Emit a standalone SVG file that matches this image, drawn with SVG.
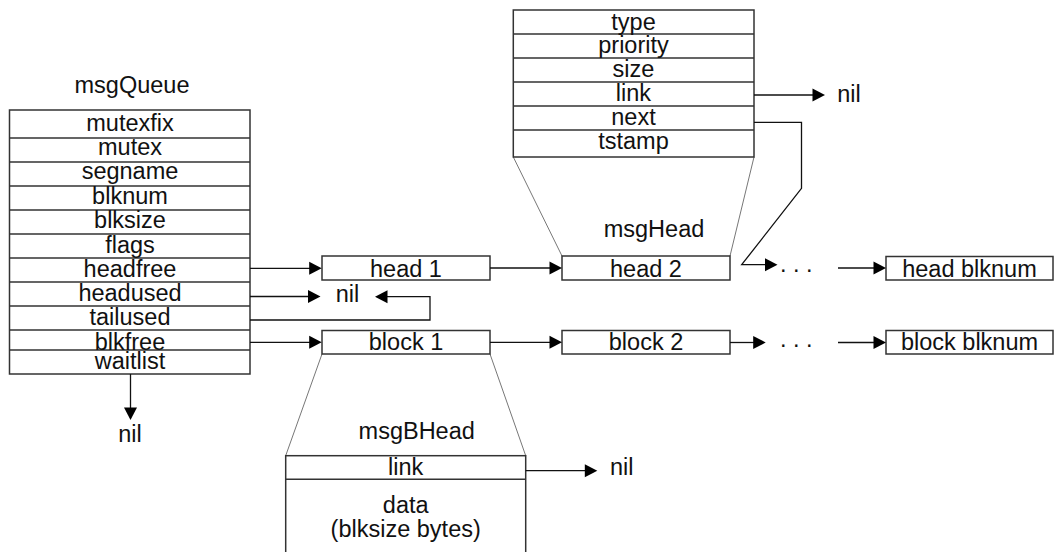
<svg xmlns="http://www.w3.org/2000/svg" width="1054" height="552" viewBox="0 0 1054 552">
  <defs>
    <!-- arrowhead with its tip at the origin, pointing along +x -->
    <path id="ah" d="M0,0 L-12.5,-6.5 L-12.5,6.5 Z" fill="#000"/>
  </defs>
  <style>
    text { font-family: "Liberation Sans", Arial, sans-serif; font-size: 23.5px; fill: #111; text-anchor: middle; }
    .box { fill: #fff; stroke: #333; stroke-width: 1.5; }
    .div { stroke: #333; stroke-width: 1.5; }
    .conn { fill: none; stroke: #111; stroke-width: 1.3; }
    .zoom { fill: none; stroke: #777; stroke-width: 1; }
  </style>
  <rect width="1054" height="552" fill="#fff"/>

  <!-- expansion outlines -->
  <g id="expansion-lines">
    <line class="zoom" x1="513.3" y1="157" x2="562" y2="256"/>
    <line class="zoom" x1="754" y1="157" x2="730" y2="256"/>
    <line class="zoom" x1="322" y1="354" x2="285.7" y2="455.7"/>
    <line class="zoom" x1="490" y1="354" x2="525.7" y2="455.7"/>
  </g>

  <!-- msgQueue structure -->
  <g id="msgQueue">
    <text x="132" y="93.3">msgQueue</text>
    <rect class="box" x="9.5" y="110" width="240.5" height="264"/>
    <path class="div" d="M9.5,138H250M9.5,162H250M9.5,186H250M9.5,210H250M9.5,234H250M9.5,258H250M9.5,282H250M9.5,306H250M9.5,330H250M9.5,350H250"/>
    <text x="130" y="131">mutexfix</text>
    <text x="130" y="154.5">mutex</text>
    <text x="130" y="179">segname</text>
    <text x="130" y="203.5">blknum</text>
    <text x="130" y="228">blksize</text>
    <text x="130" y="252.5">flags</text>
    <text x="130" y="276.7">headfree</text>
    <text x="130" y="300.7">headused</text>
    <text x="130" y="324.5">tailused</text>
    <text x="130" y="349.5">blkfree</text>
    <text x="130" y="368.5">waitlist</text>
  </g>

  <!-- msgHead structure -->
  <g id="msgHead">
    <rect class="box" x="513.3" y="10" width="240.7" height="147"/>
    <path class="div" d="M513.3,34H754M513.3,58H754M513.3,82H754M513.3,106H754M513.3,130H754"/>
    <text x="633.5" y="30">type</text>
    <text x="633.5" y="53.3">priority</text>
    <text x="633.5" y="77.3">size</text>
    <text x="633.5" y="101">link</text>
    <text x="633.5" y="125">next</text>
    <text x="633.5" y="149">tstamp</text>
    <text x="654" y="236.7">msgHead</text>
  </g>

  <!-- msgBHead structure -->
  <g id="msgBHead">
    <text x="416.7" y="439">msgBHead</text>
    <rect class="box" x="285.7" y="455.7" width="240" height="110"/>
    <line class="div" x1="285.7" y1="479.3" x2="525.7" y2="479.3"/>
    <text x="405.7" y="475">link</text>
    <text x="405.7" y="513.3">data</text>
    <text x="405.7" y="536.5">(blksize bytes)</text>
  </g>

  <!-- header list -->
  <g id="head1">
    <rect class="box" x="322" y="256" width="168" height="24"/>
    <text x="406" y="276.7">head 1</text>
  </g>
  <g id="head2">
    <rect class="box" x="562" y="256" width="168" height="24"/>
    <text x="646" y="276.7">head 2</text>
  </g>
  <g id="head-blknum">
    <rect class="box" x="886" y="256.5" width="167" height="23.5"/>
    <text x="969.5" y="276.7">head blknum</text>
  </g>

  <!-- block list -->
  <g id="block1">
    <rect class="box" x="322" y="330.5" width="168" height="23.5"/>
    <text x="406" y="350">block 1</text>
  </g>
  <g id="block2">
    <rect class="box" x="562" y="330.5" width="168" height="23.5"/>
    <text x="646" y="350">block 2</text>
  </g>
  <g id="block-blknum">
    <rect class="box" x="886" y="330.5" width="167" height="23.5"/>
    <text x="969.5" y="350">block blknum</text>
  </g>

  <!-- terminators and ellipses -->
  <g id="nil-waitlist"><text x="130" y="442.3">nil</text></g>
  <g id="nil-headused"><text x="347.5" y="301.7">nil</text></g>
  <g id="nil-msghead-link"><text x="849" y="101.7">nil</text></g>
  <g id="nil-msgbhead-link"><text x="621.7" y="475">nil</text></g>
  <g id="ellipsis-head"><text x="780" y="272" style="text-anchor:start">. . .</text></g>
  <g id="ellipsis-block"><text x="780" y="347" style="text-anchor:start">. . .</text></g>

  <!-- connectors -->
  <g id="connectors">
    <path class="conn" d="M250,268.3H316"/>
    <use href="#ah" transform="translate(321.7,268.3)"/>
    <path class="conn" d="M250,296.5H315"/>
    <use href="#ah" transform="translate(320.5,296.5)"/>
    <path class="conn" d="M250,320H430V296.7H380"/>
    <use href="#ah" transform="translate(375,296.7) rotate(180)"/>
    <path class="conn" d="M250,342.3H316"/>
    <use href="#ah" transform="translate(321.7,342.3)"/>
    <path class="conn" d="M130.5,374V414"/>
    <use href="#ah" transform="translate(130.5,420) rotate(90)"/>
    <path class="conn" d="M490,268H556"/>
    <use href="#ah" transform="translate(562,268)"/>
    <path class="conn" d="M490,342.3H556"/>
    <use href="#ah" transform="translate(562,342.3)"/>
    <path class="conn" d="M754,95H819"/>
    <use href="#ah" transform="translate(825,95)"/>
    <path class="conn" d="M754,122.3H801.5V188.3L741.7,264.7H771"/>
    <use href="#ah" transform="translate(777.5,264.7)"/>
    <path class="conn" d="M730,342.5H760"/>
    <use href="#ah" transform="translate(765.7,342.5)"/>
    <path class="conn" d="M838,268H880"/>
    <use href="#ah" transform="translate(886,268)"/>
    <path class="conn" d="M838,342.5H880"/>
    <use href="#ah" transform="translate(886,342.5)"/>
    <path class="conn" d="M525.7,470.7H591"/>
    <use href="#ah" transform="translate(597.3,470.7)"/>
  </g>
</svg>
